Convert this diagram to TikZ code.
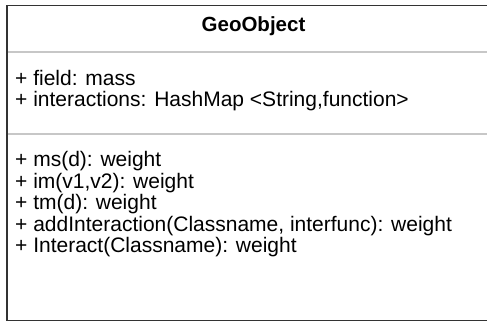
\documentclass[tikz,border=0pt]{standalone}
\usepackage{fontspec}
\setmainfont{Liberation Sans}
\begin{document}
\begin{tikzpicture}[x=1pt,y=-1pt,
  member/.style={anchor=base west, inner sep=0pt, font=\fontsize{21}{24}\selectfont},
  title/.style={anchor=base, inner sep=0pt, font=\fontsize{20.5}{24}\selectfont\bfseries},
  classframe/.style={draw=black!80, line width=1.6pt},
  divider/.style={draw=black!22, line width=2pt}]
\useasboundingbox (0,0) rectangle (487,322);
% class frame (right side runs past the visible area)
\draw[classframe] (500,5.5) -- (7,5.5) -- (7,320.5) -- (500,320.5);
% compartment dividers
\draw[divider] (8,52) -- (500,52);
\draw[divider] (8,133.5) -- (500,133.5);
% class name
\node[title] (name) at (253.5,31.5) {GeoObject};
% attributes
\node[member] (a1) at (15,85) {+ field: mass};
\node[member] (a2) at (15,106.5) {+ interactions: HashMap <String,function>};
% operations
\node[member] (m1) at (15,166.7) {+ ms(d): weight};
\node[member] (m2) at (15,188.2) {+ im(v1,v2): weight};
\node[member] (m3) at (15,209.6) {+ tm(d): weight};
\node[member] (m4) at (15,231.2) {+ addInteraction(Classname, interfunc): weight};
\node[member] (m5) at (15,252.7) {+ Interact(Classname): weight};
\end{tikzpicture}
\end{document}
